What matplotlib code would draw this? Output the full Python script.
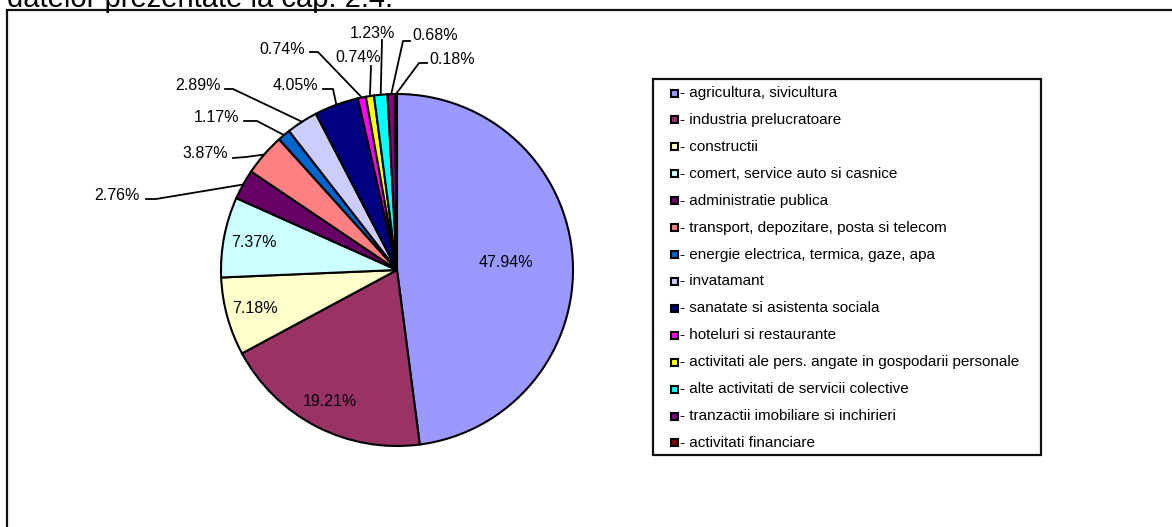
import numpy as np
import matplotlib
matplotlib.use("Agg")
import matplotlib.pyplot as plt
from matplotlib.patches import Rectangle

plt.rcParams["font.family"] = ["Liberation Sans", "DejaVu Sans"]

# -----------------------------------------------------------
# Data
# -----------------------------------------------------------
categories = [
    "agricultura, sivicultura",
    "industria prelucratoare",
    "constructii",
    "comert, service auto si casnice",
    "administratie publica",
    "transport, depozitare, posta si telecom",
    "energie electrica, termica, gaze, apa",
    "invatamant",
    "sanatate si asistenta sociala",
    "hoteluri si restaurante",
    "activitati ale pers. angate in gospodarii personale",
    "alte activitati de servicii colective",
    "tranzactii imobiliare si inchirieri",
    "activitati financiare",
]
shares = [47.94, 19.21, 7.18, 7.37, 2.76, 3.87, 1.17, 2.89, 4.05,
          0.74, 0.74, 1.23, 0.68, 0.18]
colors = ["#9999FF", "#993366", "#FFFFCC", "#CCFFFF", "#660066", "#FF8080",
          "#0066CC", "#CCCCFF", "#000080", "#FF00FF", "#FFFF00", "#00FFFF",
          "#800080", "#800000"]

# -----------------------------------------------------------
# Layout (pixel coords, origin top-left)
# -----------------------------------------------------------
W, H = 1172, 527
cx, cy, radius = 397, 270, 176
label_fs = 11.5


def py(y):
    return H - y


# label radius (fraction of pie radius) for labels drawn inside the slices
inside_r = {0: 0.62, 1: 0.84, 2: 0.835, 3: 0.83}

# outside labels: text anchor, alignment, leader line points before the slice edge
outside = {
    4:  dict(xy=(140, 196), ha="right", line=[(146, 199), (156, 199)]),
    5:  dict(xy=(228, 154), ha="right", line=[(233, 158), (246, 157)]),
    6:  dict(xy=(239, 117), ha="right", line=[(244, 121), (257, 121)]),
    7:  dict(xy=(221, 85), ha="right", line=[(225, 89), (233, 89)]),
    8:  dict(xy=(318, 85), ha="right", line=[(323, 89), (333, 89)]),
    9:  dict(xy=(305, 49), ha="right", line=[(310, 52), (318, 52)]),
    10: dict(xy=(381, 58), ha="right", line=[(371, 66)]),
    11: dict(xy=(395, 33), ha="right", line=[(382, 40)]),
    12: dict(xy=(412, 35), ha="left", line=[(410, 41), (403, 41)]),
    13: dict(xy=(429, 60), ha="left", line=[(427, 63), (419, 63)]),
}

fig = plt.figure(figsize=(W / 100, H / 100), dpi=100)
ax = fig.add_axes([0, 0, 1, 1])

wedges, _ = ax.pie(
    shares,
    colors=colors,
    startangle=90,
    counterclock=False,
    center=(cx, py(cy)),
    radius=radius,
    wedgeprops=dict(edgecolor="black", linewidth=1.5),
)
ax.set_xlim(0, W)
ax.set_ylim(0, H)
ax.set_aspect("equal")
ax.axis("off")

# percentage labels
for i, w in enumerate(wedges):
    mid = np.deg2rad((w.theta1 + w.theta2) / 2)
    label = f"{shares[i]:.2f}%"
    if i in inside_r:
        r = inside_r[i] * radius
        ax.text(cx + r * np.cos(mid), py(cy) + r * np.sin(mid), label,
                ha="center", va="center", fontsize=label_fs)
    else:
        o = outside[i]
        ax.text(o["xy"][0], py(o["xy"][1]), label, ha=o["ha"], va="center",
                fontsize=label_fs)
        edge = (cx + radius * np.cos(mid), py(cy) + radius * np.sin(mid))
        xs = [p[0] for p in o["line"]] + [edge[0]]
        ys = [py(p[1]) for p in o["line"]] + [edge[1]]
        ax.plot(xs, ys, color="black", linewidth=1.3)

# legend box
ax.add_patch(Rectangle((653, py(455)), 1041 - 653, 455 - 79, facecolor="white",
                       edgecolor="#111111", linewidth=1.6))
row0, step = 93, 26.92
for i, (name, col) in enumerate(zip(categories, colors)):
    y = row0 + i * step
    ax.add_patch(Rectangle((671, py(y) - 3.5), 7, 7, facecolor=col,
                           edgecolor="black", linewidth=1.5))
    ax.text(680, py(y), "- " + name, ha="left", va="center", fontsize=11)

# chart area border (runs off the right and bottom of the picture)
ax.plot([7, 7, W + 20], [py(H + 20), py(10), py(10)], color="#111111",
        linewidth=1.6, solid_joinstyle="miter")

# text of the page above the chart, cut off at the top
ax.text(7, py(7), "datelor prezentate la cap. 2.4.", ha="left",
        va="baseline", fontsize=21)

fig.savefig("out.png", dpi=100)
